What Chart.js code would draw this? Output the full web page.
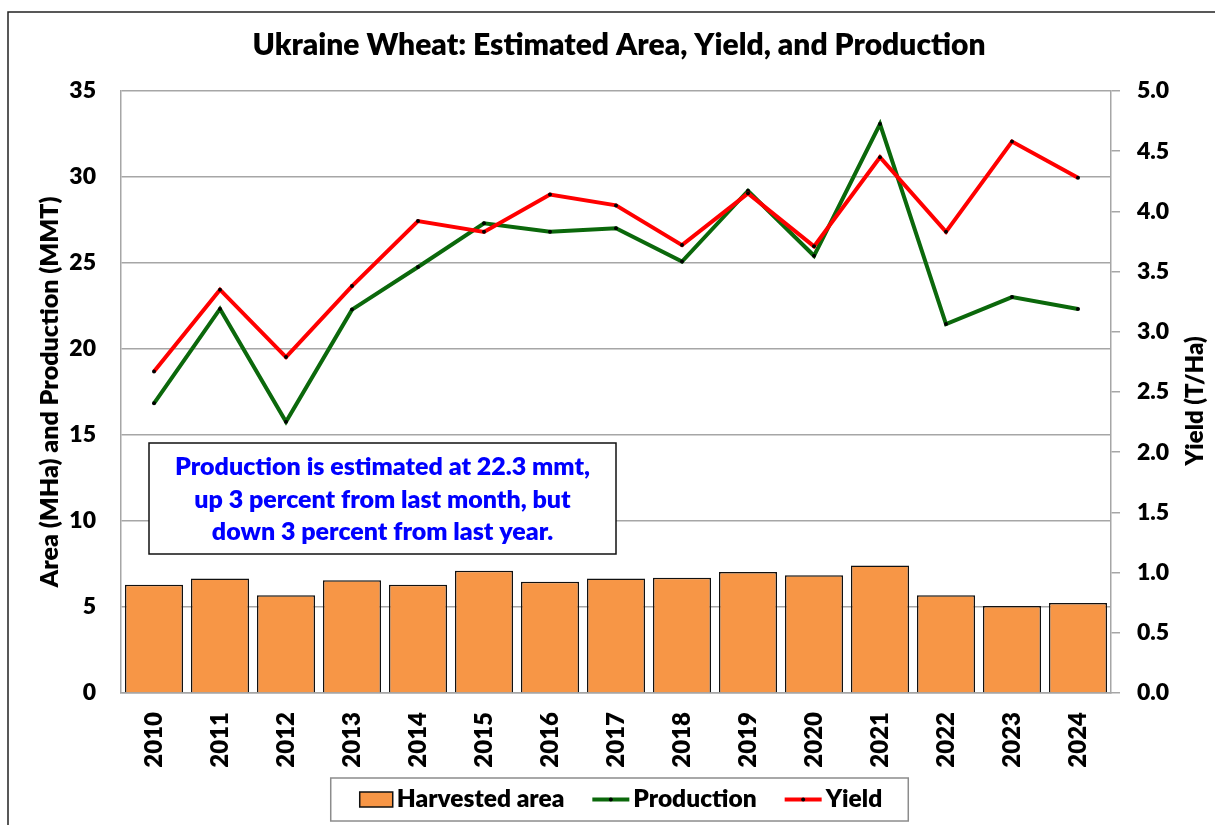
<!DOCTYPE html>
<html>
<head>
<meta charset="utf-8">
<script src="https://cdn.jsdelivr.net/npm/chart.js@4.4.1/dist/chart.umd.min.js"></script>
<style>
  html, body { margin: 0; padding: 0; background: #ffffff; }
  canvas { display: block; }
</style>
</head>
<body>
<canvas id="chart" width="1215" height="825"></canvas>
<script>
// ---------------- data ----------------
const years = ['2010','2011','2012','2013','2014','2015','2016','2017','2018','2019','2020','2021','2022','2023','2024'];
const harvestedArea = [6.30, 6.65, 5.68, 6.55, 6.30, 7.11, 6.47, 6.65, 6.70, 7.03, 6.84, 7.42, 5.68, 5.06, 5.23];   // MHa
const production    = [16.84, 22.33, 15.77, 22.29, 24.77, 27.31, 26.82, 27.02, 25.08, 29.20, 25.42, 33.08, 21.45, 23.02, 22.33]; // MMT
const yieldTHa      = [2.67, 3.35, 2.79, 3.38, 3.92, 3.83, 4.14, 4.05, 3.72, 4.15, 3.71, 4.45, 3.83, 4.58, 4.28];   // T/Ha

const leftAxisMax = 35;
const leftAxisStep = 5;
const rightAxisMax = 5;
const rightAxisStep = 0.5;

const chartTitle = 'Ukraine Wheat: Estimated Area, Yield, and Production';
const leftAxisTitle = 'Area (MHa) and Production (MMT)';
const rightAxisTitle = 'Yield (T/Ha)';
const noteLines = [
  'Production is estimated at 22.3 mmt,',
  'up 3 percent from last month, but',
  'down 3 percent from last year.'
];

// ---------------- style ----------------
const FONT = 'Lato, "Open Sans", "DejaVu Sans", sans-serif';
const W = '800';
const GRID = '#a6a6a6';
const ORANGE = '#F79646';
const GREEN = '#0b680b';
const RED = '#ff0000';

const decor = {
  id: 'decor',
  afterDraw(chart) {
    const ctx = chart.ctx;
    ctx.save();

    // outer frame
    ctx.strokeStyle = '#222';
    ctx.lineWidth = 1.5;
    ctx.strokeRect(8, 12, 1240, 840);

    // title
    ctx.fillStyle = '#000';
    ctx.font = `${W} 30px ${FONT}`;
    ctx.textAlign = 'center';
    ctx.textBaseline = 'alphabetic';
    ctx.fillText(chartTitle, 619, 55);

    // right axis title (reads bottom-to-top)
    ctx.save();
    ctx.translate(1195, 401);
    ctx.rotate(-Math.PI / 2);
    ctx.font = `${W} 24px ${FONT}`;
    ctx.textAlign = 'center';
    ctx.textBaseline = 'middle';
    ctx.fillText(rightAxisTitle, 0, 0);
    ctx.restore();

    // note box
    ctx.fillStyle = '#fff';
    ctx.fillRect(149, 443, 467, 111);
    ctx.strokeStyle = '#111';
    ctx.lineWidth = 1.5;
    ctx.strokeRect(149, 443, 467, 111);
    ctx.fillStyle = '#0000ff';
    ctx.font = `${W} 25px ${FONT}`;
    ctx.textAlign = 'center';
    ctx.textBaseline = 'alphabetic';
    const base = [475, 507.5, 540];
    noteLines.forEach((t, i) => ctx.fillText(t, 382.5, base[i]));

    // legend
    const ds = chart.data.datasets;
    const legendOrder = [2, 1, 0].map(o => ds.find(d => d.order === o));
    ctx.font = `${W} 24.5px ${FONT}`;
    const padL = 29, padR = 26, gapSw = 4, gapItem = 28;
    const items = legendOrder.map(d => ({
      d,
      sw: d.type === 'bar' ? 33 : 37,
      tw: ctx.measureText(d.label).width
    }));
    let total = padL + padR + gapItem * (items.length - 1);
    items.forEach(it => total += it.sw + gapSw + it.tw);
    const lx = 619.5 - total / 2, ly = 778, lh = 43;
    ctx.fillStyle = '#fff';
    ctx.fillRect(lx, ly, total, lh);
    ctx.strokeStyle = '#8c8c8c';
    ctx.lineWidth = 1.5;
    ctx.strokeRect(lx, ly, total, lh);
    let x = lx + padL;
    const cy = 799.5;
    items.forEach(it => {
      const d = it.d;
      if (d.type === 'bar') {
        ctx.fillStyle = d.backgroundColor;
        ctx.fillRect(x, cy - 7.5, it.sw, 15);
        ctx.strokeStyle = '#111';
        ctx.lineWidth = 1.5;
        ctx.strokeRect(x, cy - 7.5, it.sw, 15);
      } else {
        ctx.strokeStyle = d.borderColor;
        ctx.lineWidth = 4;
        ctx.beginPath();
        ctx.moveTo(x, cy);
        ctx.lineTo(x + it.sw, cy);
        ctx.stroke();
        ctx.fillStyle = '#000';
        ctx.beginPath();
        ctx.arc(x + it.sw / 2, cy, 2, 0, Math.PI * 2);
        ctx.fill();
      }
      x += it.sw + gapSw;
      ctx.fillStyle = '#000';
      ctx.textAlign = 'left';
      ctx.textBaseline = 'alphabetic';
      ctx.fillText(d.label, x, 807);
      x += it.tw + gapItem;
    });

    ctx.restore();
  }
};

const tickFont = { family: FONT, size: 23, weight: W };

new Chart(document.getElementById('chart'), {
  data: {
    labels: years,
    datasets: [
      {
        type: 'line',
        label: 'Yield',
        data: yieldTHa,
        yAxisID: 'y1',
        order: 0,
        borderColor: RED,
        borderWidth: 4,
        pointRadius: 2,
        pointBackgroundColor: '#000',
        pointBorderWidth: 0,
        tension: 0,
        fill: false
      },
      {
        type: 'line',
        label: 'Production',
        data: production,
        yAxisID: 'y',
        order: 1,
        borderColor: GREEN,
        borderWidth: 4,
        pointRadius: 2,
        pointBackgroundColor: '#000',
        pointBorderWidth: 0,
        tension: 0,
        fill: false
      },
      {
        type: 'bar',
        label: 'Harvested area',
        data: harvestedArea,
        yAxisID: 'y',
        order: 2,
        backgroundColor: ORANGE,
        borderColor: '#111',
        borderWidth: 1.5,
        barPercentage: 0.88,
        categoryPercentage: 1.0
      }
    ]
  },
  options: {
    responsive: false,
    animation: false,
    devicePixelRatio: 1,
    layout: { padding: { top: 91, bottom: 52, left: 0, right: 0 } },
    plugins: {
      legend: { display: false },
      title: { display: false },
      tooltip: { enabled: false }
    },
    scales: {
      x: {
        type: 'category',
        offset: true,
        grid: { display: false, drawTicks: false },
        border: { display: true, color: GRID, width: 1.5 },
        ticks: {
          minRotation: 90, maxRotation: 90, autoSkip: false,
          padding: 19, color: '#000',
          font: { family: FONT, size: 24, weight: W }
        },
        afterFit(s) { s.height = 80; }
      },
      y: {
        position: 'left',
        min: 0, max: leftAxisMax,
        grid: { color: GRID, lineWidth: 1.5, drawTicks: false },
        border: { display: true, color: GRID, width: 1.5 },
        ticks: { stepSize: leftAxisStep, padding: 25, color: '#000', font: tickFont },
        title: {
          display: true, text: leftAxisTitle, color: '#000',
          font: { family: FONT, size: 25, weight: W }, padding: { top: 35, bottom: 0 }
        },
        afterFit(s) { s.width = 121; }
      },
      y1: {
        position: 'right',
        min: 0, max: rightAxisMax,
        grid: { drawOnChartArea: false, drawTicks: true, tickLength: 9, color: GRID, lineWidth: 1.5 },
        border: { display: true, color: GRID, width: 1.5 },
        ticks: {
          stepSize: rightAxisStep, padding: 17, color: '#000', font: tickFont,
          callback: v => Number(v).toFixed(1)
        },
        afterFit(s) { s.width = 104; }
      }
    }
  },
  plugins: [decor]
});
</script>
</body>
</html>
